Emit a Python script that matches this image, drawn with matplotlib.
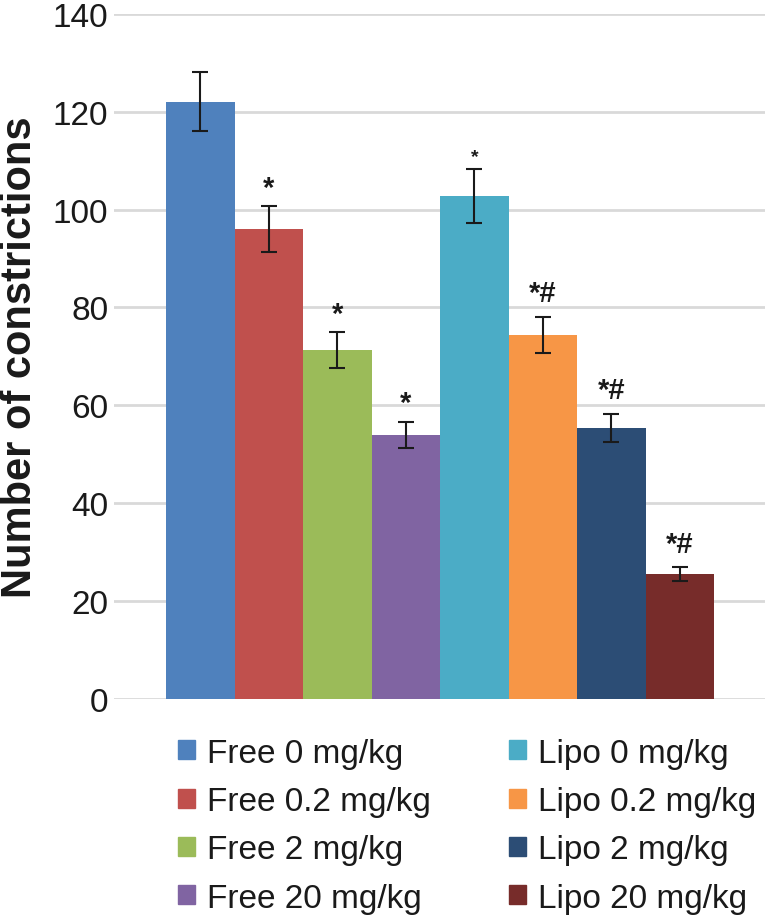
import matplotlib.pyplot as plt

plt.rcParams['font.family'] = ['Liberation Sans', 'DejaVu Sans']

groups = ['Free 0 mg/kg', 'Free 0.2 mg/kg', 'Free 2 mg/kg', 'Free 20 mg/kg',
          'Lipo 0 mg/kg', 'Lipo 0.2 mg/kg', 'Lipo 2 mg/kg', 'Lipo 20 mg/kg']
means = [122.0, 96.1, 71.3, 54.0, 102.8, 74.4, 55.4, 25.5]
errors = [6.0, 4.7, 3.7, 2.7, 5.5, 3.7, 2.8, 1.4]
marks = ['', '*', '*', '*', '*', '*#', '*#', '*#']
colors = ['#4F81BD', '#C0504D', '#9BBB59', '#8064A2',
          '#4BACC6', '#F79646', '#2C4D75', '#772C2A']

fig = plt.figure(figsize=(7.65, 9.2), dpi=100)
ax = fig.add_axes([0.149, 0.239, 0.851, 0.745])

pos = list(range(len(means)))
ax.bar(pos, means, width=1.0, color=colors, zorder=2)
ax.errorbar(pos, means, yerr=errors, fmt='none', ecolor='#1a1a1a',
            elinewidth=1.5, capsize=5.5, capthick=1.5, zorder=3)

for i, m in enumerate(marks):
    if not m:
        continue
    size = 14 if i == 4 else 21
    off = 7 if '#' in m else 3
    ax.annotate(m, (pos[i], means[i] + errors[i]), xytext=(0, off),
                textcoords='offset points', ha='center', va='bottom',
                fontsize=size, fontweight='bold', color='#1a1a1a')

ax.set_ylim(0, 140)
ax.set_xlim(-1.26, 8.24)
ax.set_yticks(range(0, 141, 20))
ax.set_xticks([])
ax.yaxis.grid(True, color='#d9d9d9', linewidth=2, zorder=0)
ax.set_axisbelow(True)
for s in ax.spines.values():
    s.set_visible(False)
ax.tick_params(axis='y', length=0, labelsize=24, pad=4, labelcolor='#1a1a1a')
ax.set_ylabel('Number of constrictions', fontsize=30, fontweight='bold',
              color='#1a1a1a', va='center')
ax.yaxis.set_label_coords(-0.145, 0.5)

# legend: Free in the left column, Lipo in the right
handles = [plt.Rectangle((0, 0), 1, 1, color=c) for c in colors]
fig.legend(handles, groups, ncol=2, loc='upper left',
           bbox_to_anchor=(0.2327, 0.197), borderaxespad=0, borderpad=0,
           frameon=False, fontsize=24, handlelength=0.5, handleheight=0.5,
           handletextpad=0.36, columnspacing=2.35, labelspacing=0.52,
           labelcolor='#1a1a1a')

fig.savefig('out.png', dpi=100)
